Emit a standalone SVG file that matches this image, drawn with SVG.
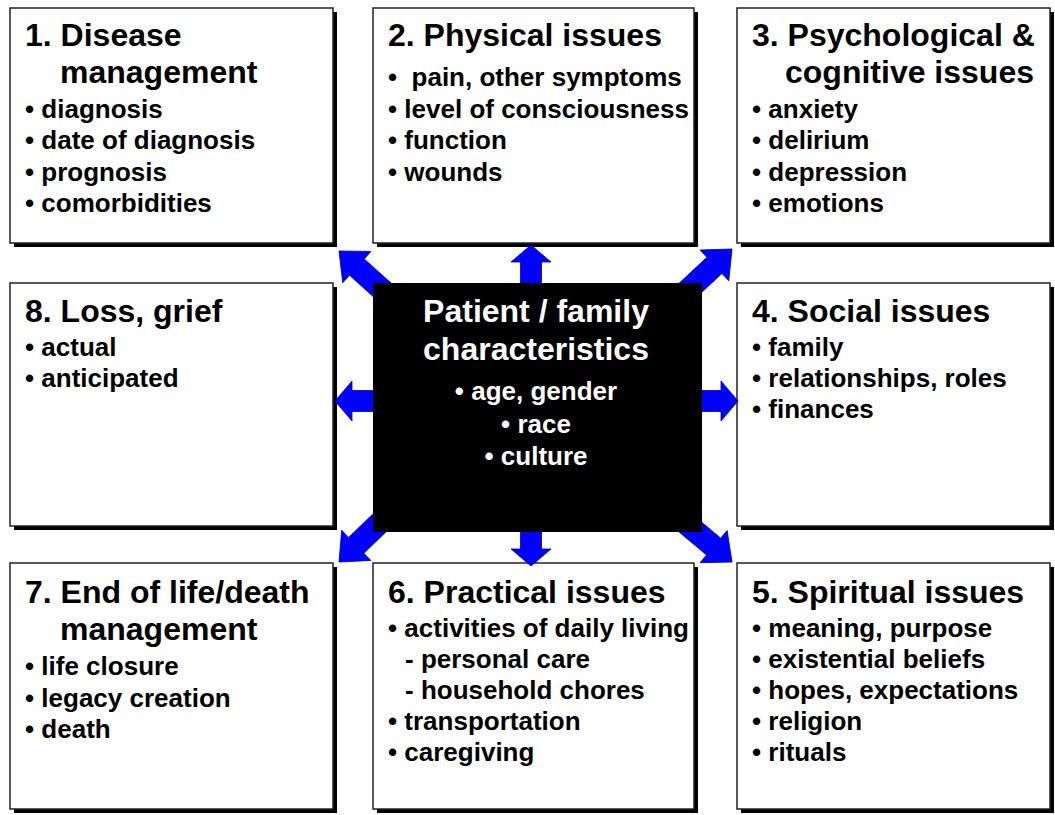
<svg xmlns="http://www.w3.org/2000/svg" width="1055" height="815" viewBox="0 0 1055 815">
<style>
.shadow{fill:#000}
.box{fill:#fff;stroke:#222;stroke-width:1.5}
.t{font-family:"Liberation Sans",Arial,sans-serif;font-weight:bold;fill:#000}
.h{font-size:32px}
.b{font-size:26px}
.w{fill:#fff}
.arrow{fill:#0000ff;stroke:#0000b0;stroke-width:0.8}
</style>
<defs>
<polygon id="ortho" points="0,0 -17,-20 -17,-10.5 -60,-10.5 -60,10.5 -17,10.5 -17,20"/>
<polygon id="diag" points="0,0 -24,-21 -24,-11 -75,-11 -75,11 -24,11 -24,21"/>
</defs>
<rect width="1055" height="815" fill="#fff"/>

<g id="node1">
<rect class="shadow" x="14" y="12" width="323" height="235"/>
<rect class="box" x="10" y="8" width="323" height="235"/>
<text class="t h" x="25" y="46">1. Disease</text>
<text class="t h" x="60" y="83">management</text>
<text class="t b" x="25" y="118">• diagnosis</text>
<text class="t b" x="25" y="149">• date of diagnosis</text>
<text class="t b" x="25" y="181">• prognosis</text>
<text class="t b" x="25" y="212">• comorbidities</text>
</g>

<g id="node2">
<rect class="shadow" x="377" y="12" width="321" height="235"/>
<rect class="box" x="373" y="8" width="321" height="235"/>
<text class="t h" x="388" y="46">2. Physical issues</text>
<text class="t b" x="388" y="86">•&#160; pain, other symptoms</text>
<text class="t b" x="388" y="118">• level of consciousness</text>
<text class="t b" x="388" y="149">• function</text>
<text class="t b" x="388" y="181">• wounds</text>
</g>

<g id="node3">
<rect class="shadow" x="741" y="12" width="313" height="235"/>
<rect class="box" x="737" y="8" width="313" height="235"/>
<text class="t h" x="752" y="46">3. Psychological &amp;</text>
<text class="t h" x="785" y="83">cognitive issues</text>
<text class="t b" x="752" y="118">• anxiety</text>
<text class="t b" x="752" y="149">• delirium</text>
<text class="t b" x="752" y="181">• depression</text>
<text class="t b" x="752" y="212">• emotions</text>
</g>

<g id="node8">
<rect class="shadow" x="14" y="287" width="323" height="243"/>
<rect class="box" x="10" y="283" width="323" height="243"/>
<text class="t h" x="25" y="322">8. Loss, grief</text>
<text class="t b" x="25" y="356">• actual</text>
<text class="t b" x="25" y="387">• anticipated</text>
</g>

<g id="node4">
<rect class="shadow" x="741" y="287" width="313" height="243"/>
<rect class="box" x="737" y="283" width="313" height="243"/>
<text class="t h" x="752" y="322">4. Social issues</text>
<text class="t b" x="752" y="356">• family</text>
<text class="t b" x="752" y="387">• relationships, roles</text>
<text class="t b" x="752" y="418">• finances</text>
</g>

<g id="node7">
<rect class="shadow" x="14" y="567" width="323" height="246"/>
<rect class="box" x="10" y="563" width="323" height="246"/>
<text class="t h" x="25" y="603">7. End of life/death</text>
<text class="t h" x="60" y="640">management</text>
<text class="t b" x="25" y="675">• life closure</text>
<text class="t b" x="25" y="707">• legacy creation</text>
<text class="t b" x="25" y="738">• death</text>
</g>

<g id="node6">
<rect class="shadow" x="377" y="567" width="321" height="246"/>
<rect class="box" x="373" y="563" width="321" height="246"/>
<text class="t h" x="388" y="603">6. Practical issues</text>
<text class="t b" x="388" y="637">• activities of daily living</text>
<text class="t b" x="405" y="668">- personal care</text>
<text class="t b" x="405" y="699">- household chores</text>
<text class="t b" x="388" y="730">• transportation</text>
<text class="t b" x="388" y="761">• caregiving</text>
</g>

<g id="node5">
<rect class="shadow" x="741" y="567" width="313" height="246"/>
<rect class="box" x="737" y="563" width="313" height="246"/>
<text class="t h" x="752" y="603">5. Spiritual issues</text>
<text class="t b" x="752" y="637">• meaning, purpose</text>
<text class="t b" x="752" y="668">• existential beliefs</text>
<text class="t b" x="752" y="699">• hopes, expectations</text>
<text class="t b" x="752" y="730">• religion</text>
<text class="t b" x="752" y="761">• rituals</text>
</g>

<g id="connectors">
<use href="#ortho" class="arrow" transform="translate(531,245) rotate(-90)"/>
<use href="#ortho" class="arrow" transform="translate(531,566) rotate(90)"/>
<use href="#ortho" class="arrow" transform="translate(335,401) rotate(180)"/>
<use href="#ortho" class="arrow" transform="translate(738,401)"/>
<use href="#diag" class="arrow" transform="translate(339,251) rotate(-138)"/>
<use href="#diag" class="arrow" transform="translate(732,249) rotate(-43)"/>
<use href="#diag" class="arrow" transform="translate(339,562) rotate(136)"/>
<use href="#diag" class="arrow" transform="translate(732,562) rotate(40)"/>
</g>

<g id="center">
<rect x="373" y="283" width="329" height="249" fill="#000"/>
<text class="t h w" x="536" y="322" text-anchor="middle">Patient / family</text>
<text class="t h w" x="536" y="360" text-anchor="middle">characteristics</text>
<text class="t b w" x="536" y="400" text-anchor="middle">• age, gender</text>
<text class="t b w" x="536" y="433" text-anchor="middle">• race</text>
<text class="t b w" x="536" y="465" text-anchor="middle">• culture</text>
</g>
</svg>
